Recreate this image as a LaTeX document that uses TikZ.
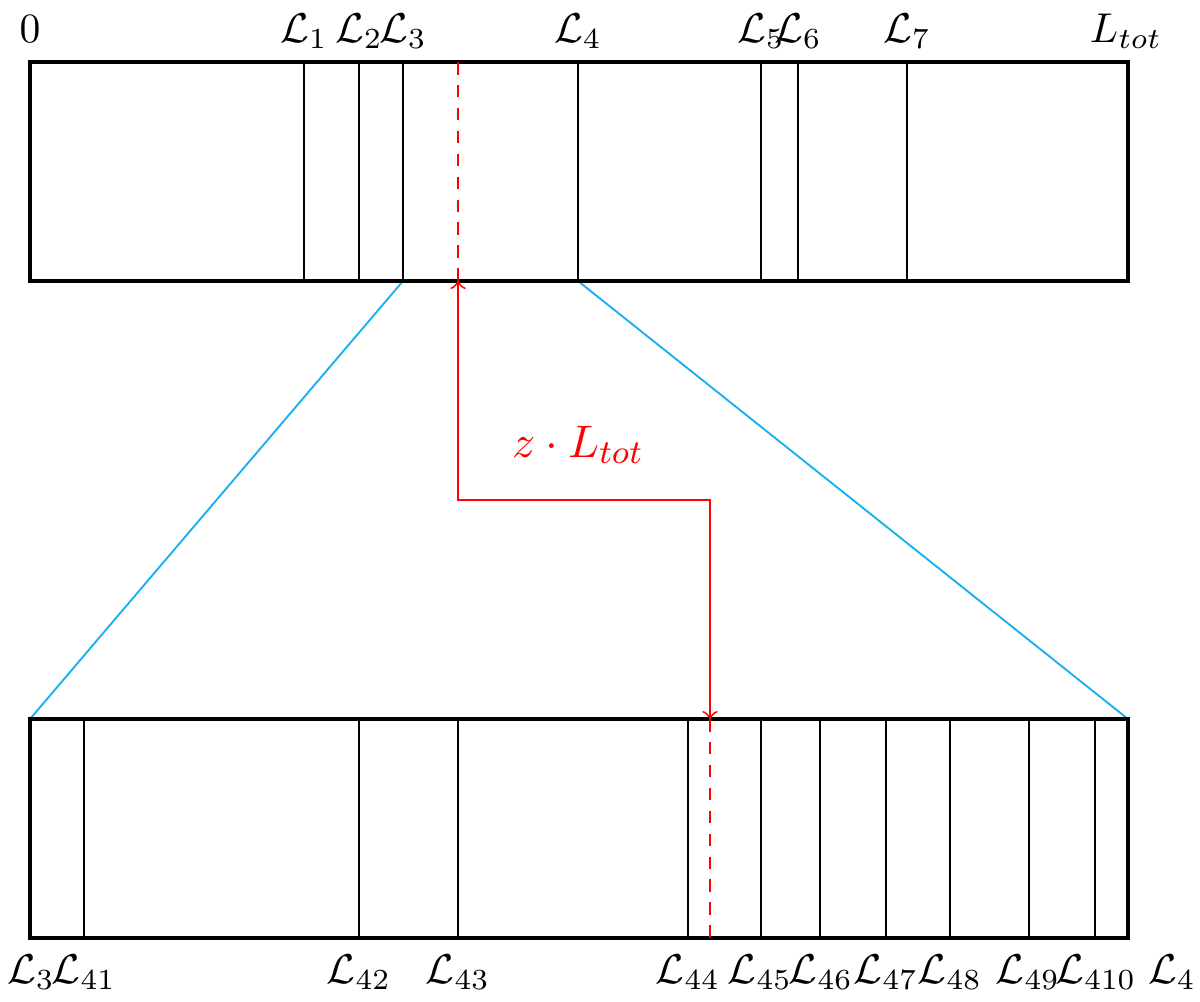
\documentclass[tikz,border=0pt]{standalone}
\usetikzlibrary{arrows}
\begin{document}
\begin{tikzpicture}[x=0.24pt,y=-0.24pt,
  bar/.style={line width=1.1pt},
  tick/.style={line width=0.45pt},
  lab/.style={anchor=base,inner sep=0pt},
  zoomline/.style={color={rgb,255:red,25;green,175;blue,240},line width=0.45pt},
  marker/.style={red,line width=0.45pt,dash pattern=on 3pt off 2.5pt},
  zpath/.style={red,line width=0.45pt,<->,>=to}]
\useasboundingbox (0,0) rectangle (1200,1001);
% top bar corners and ticks
\coordinate (TA) at (30,62);
\coordinate (TB) at (1128,281);
\coordinate (BA) at (30,719);
\coordinate (BB) at (1128,938);
\foreach \n/\x in {1/304,2/359,3/403,4/578,5/761,6/798,7/907}{
  \coordinate (t\n u) at (\x,62);
  \coordinate (t\n d) at (\x,281);
  \draw[tick] (t\n u) -- (t\n d);
}
\foreach \n/\x in {1/84,2/359,3/458,4/688,5/761,6/820,7/886,8/950,9/1029,10/1095}{
  \coordinate (b\n u) at (\x,719);
  \coordinate (b\n d) at (\x,938);
  \draw[tick] (b\n u) -- (b\n d);
}
% zoom lines
\coordinate (BL) at (30,719);
\coordinate (BR) at (1128,719);
\draw[zoomline] (t3d) -- (BL);
\draw[zoomline] (t4d) -- (BR);
% bars
\draw[bar] (TA) rectangle (TB);
\draw[bar] (BA) rectangle (BB);
% red markers
\coordinate (zu) at (458,62);
\coordinate (zd) at (458,281);
\coordinate (zm1) at (458,500);
\coordinate (zm2) at (710,500);
\coordinate (wu) at (710,719);
\coordinate (wd) at (710,938);
\draw[marker] (zu) -- (zd);
\draw[marker] (wu) -- (wd);
\draw[zpath] (zd) -- (zm1) -- (zm2) -- (wu);
\node[lab,red,font=\fontsize{11}{13}\selectfont] (zl) at (578,457) {$z\cdot L_{tot}$};
% top labels
\node[lab] (l0) at (30,42) {$0$};
\node[lab] (l1) at (304,42) {$\mathcal{L}_1$};
\node[lab] (l2) at (359,42) {$\mathcal{L}_2$};
\node[lab] (l3) at (403,42) {$\mathcal{L}_3$};
\node[lab] (l4) at (578,42) {$\mathcal{L}_4$};
\node[lab] (l5) at (761,42) {$\mathcal{L}_5$};
\node[lab] (l6) at (798,42) {$\mathcal{L}_6$};
\node[lab] (l7) at (907,42) {$\mathcal{L}_7$};
\node[lab] (lt) at (1126,42) {$L_{tot}$};
% bottom labels
\node[lab] (m3) at (31,983) {$\mathcal{L}_3$};
\node[lab] (m41) at (84,983) {$\mathcal{L}_{41}$};
\node[lab] (m42) at (359,983) {$\mathcal{L}_{42}$};
\node[lab] (m43) at (458,983) {$\mathcal{L}_{43}$};
\node[lab] (m44) at (688,983) {$\mathcal{L}_{44}$};
\node[lab] (m45) at (760,983) {$\mathcal{L}_{45}$};
\node[lab] (m46) at (821,983) {$\mathcal{L}_{46}$};
\node[lab] (m47) at (886,983) {$\mathcal{L}_{47}$};
\node[lab] (m48) at (950,983) {$\mathcal{L}_{48}$};
\node[lab] (m49) at (1028,983) {$\mathcal{L}_{49}$};
\node[lab] (m410) at (1096,983) {$\mathcal{L}_{410}$};
\node[lab] (m4) at (1172,983) {$\mathcal{L}_4$};
\end{tikzpicture}
\end{document}
